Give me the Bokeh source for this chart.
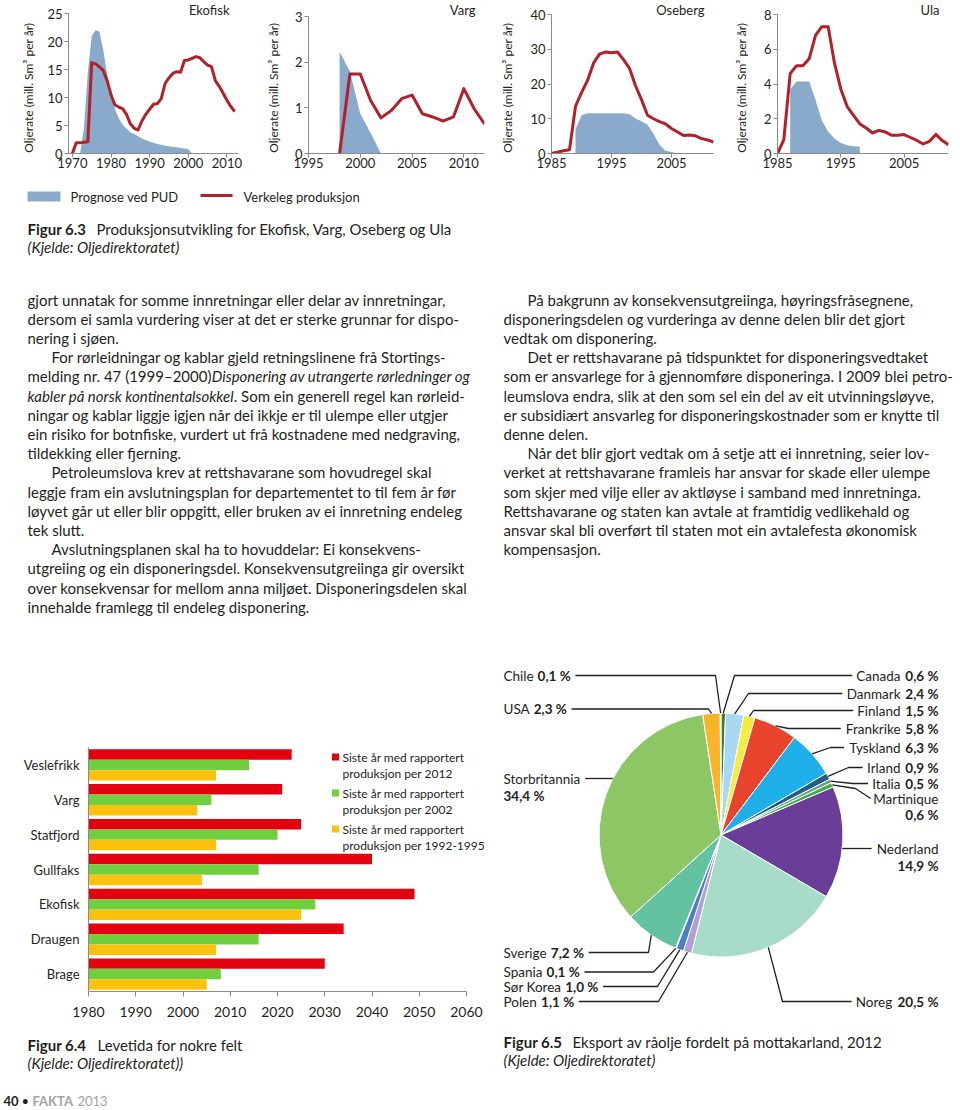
import math
from bokeh.plotting import figure
from bokeh.models import Range1d, FixedTicker, ColumnDataSource, Label, LabelSet
from bokeh.layouts import column, row
from bokeh.embed import file_html
from bokeh.resources import INLINE
from bokeh.core.properties import value
from bokeh.transform import dodge

FONT = "Lato"
INK = "#231f20"
AX = "#8a8a8a"
BLUE = "#8aaacb"
RED = "#b3202a"

# ---------------- Figure 6.3 data (mill. Sm3 per year) ----------------
eko_years = list(range(1970, 2013))
eko_actual = [0, 1.9, 1.9, 2.0, 2.1, 16.2, 16.0, 15.5, 14.8, 13.0, 10.5, 8.7, 8.3, 8.0, 7.0,
              5.3, 4.5, 4.2, 5.8, 7.0, 7.9, 8.8, 8.9, 9.8, 12.5, 13.5, 14.3, 14.6, 14.5, 16.6,
              16.7, 17.0, 17.3, 17.1, 16.4, 15.8, 15.5, 13.0, 12.0, 10.8, 9.5, 8.4, 7.5]
eko_pud_years = list(range(1972, 2002))
eko_pud = [0, 4.5, 14.5, 21.0, 22.0, 21.8, 18.5, 14.2, 10.8, 8.0, 6.3, 5.2, 4.4, 3.8, 3.5,
           3.1, 2.7, 2.4, 2.1, 1.9, 1.7, 1.55, 1.4, 1.3, 1.2, 1.1, 1.0, 0.9, 0.8, 0]

varg_years = list(range(1998, 2013))
varg_actual = [0, 1.74, 1.74, 1.16, 0.78, 0.94, 1.2, 1.28, 0.87, 0.8, 0.71, 0.8, 1.42, 0.98, 0.65]
varg_pud_years = [1998, 1998, 1999, 2000, 2001, 2002]
varg_pud = [0, 2.23, 1.8, 0.87, 0.45, 0]

ose_years = list(range(1985, 2013))
ose_actual = [0, 0.4, 0.8, 1.1, 13.6, 17.5, 21.0, 26.0, 28.6, 29.2, 29.0, 29.2, 27.0, 24.5,
              19.5, 15.5, 11.0, 10.0, 9.2, 8.5, 7.2, 6.2, 5.2, 5.3, 5.1, 4.3, 3.9, 3.3]
ose_pud_years = [1989, 1989, 1990, 1991, 1992, 1993, 1994, 1995, 1996, 1997, 1998, 1999,
                 2000, 2001, 2002, 2003, 2004, 2005, 2006]
ose_pud = [0, 7.0, 11.0, 11.6, 11.6, 11.6, 11.6, 11.6, 11.6, 11.6, 11.3, 10.1, 9.3, 8.3,
           5.7, 2.5, 0.8, 0.4, 0]

ula_years = list(range(1985, 2013))
ula_actual = [0, 0.8, 4.6, 5.05, 5.05, 5.45, 6.8, 7.3, 7.3, 5.2, 3.7, 2.7, 2.2, 1.7, 1.47,
              1.18, 1.33, 1.24, 1.05, 1.05, 1.09, 0.92, 0.75, 0.55, 0.7, 1.1, 0.75, 0.5]
ula_pud_years = [1987, 1987, 1988, 1989, 1990, 1991, 1992, 1993, 1994, 1995, 1996, 1997, 1998, 1998]
ula_pud = [0, 3.7, 4.15, 4.15, 4.15, 3.1, 1.9, 1.25, 0.85, 0.6, 0.48, 0.42, 0.4, 0]

# ---------------- Figure 6.4 data (year) ----------------
fields = ["Veslefrikk", "Varg", "Statfjord", "Gullfaks", "Ekofisk", "Draugen", "Brage"]
last_2012 = [2023, 2021, 2025, 2040, 2049, 2034, 2030]
last_2002 = [2014, 2006, 2020, 2016, 2028, 2016, 2008]
last_1992_95 = [2007, 2003, 2007, 2004, 2025, 2007, 2005]
bar_series_labels = [("Siste år med rapportert", "produksjon per  2012"),
                     ("Siste år med rapportert", "produksjon per  2002"),
                     ("Siste år med rapportert", "produksjon per 1992-1995")]
bar_colors = ["#e3000f", "#6fcf3f", "#fcc10c"]
bar_xticks = [1980, 1990, 2000, 2010, 2020, 2030, 2040, 2050, 2060]

# ---------------- Figure 6.5 data (%) ----------------
countries = ["Canada", "Danmark", "Finland", "Frankrike", "Tyskland", "Irland", "Italia",
             "Martinique", "Nederland", "Noreg", "Polen", "Sør Korea", "Spania", "Sverige",
             "Storbritannia", "USA", "Chile"]
shares = [0.6, 2.4, 1.5, 5.8, 6.3, 0.9, 0.5, 0.6, 14.9, 20.5, 1.1, 1.0, 0.1, 7.2, 34.4, 2.3, 0.1]
pie_colors = ["#3b7d3b", "#a9d8f2", "#f7ec3d", "#e8432d", "#1eaee8", "#1d5f8a", "#7a9a80",
              "#3fae49", "#6a3e98", "#a8dcc9", "#b49fd4", "#4a7fc1", "#c8c8c8", "#63c29f",
              "#8dc765", "#f9b52a", "#2a7a3a"]

# ---------------- text width estimate (Lato) ----------------
W = {' ': .193, 'a': .5, 'b': .56, 'c': .47, 'd': .56, 'e': .52, 'f': .33, 'g': .51, 'h': .56,
     'i': .24, 'j': .24, 'k': .51, 'l': .24, 'm': .84, 'n': .56, 'o': .56, 'p': .56, 'q': .56,
     'r': .37, 's': .42, 't': .35, 'u': .56, 'v': .51, 'w': .78, 'x': .5, 'y': .51, 'z': .45,
     'å': .5, 'ø': .56, 'æ': .81, 'A': .68, 'C': .66, 'D': .74, 'E': .57, 'F': .55, 'I': .28,
     'K': .66, 'M': .9, 'N': .75, 'P': .6, 'S': .53, 'U': .72, 'V': .68, 'T': .58, 'R': .62,
     'L': .5, 'G': .71, ',': .21, '.': .21, '%': .78, '(': .3, ')': .3, '–': .5, '-': .33, ':': .23}
for d in "0123456789":
    W[d] = .58


def tw(s, size, style="normal"):
    w = sum(W.get(c, .6) for c in s) * size
    return w * {"normal": 1.0, "bold": 1.07, "italic": 0.95}[style]


def style_text(p, xs, ys, texts, size, style="normal", color=INK, align="left"):
    src = ColumnDataSource(dict(x=xs, y=ys, text=texts))
    p.text(x="x", y="y", text="text", source=src, text_font=value(FONT),
           text_font_size=value(f"{size}px"), text_font_style=style, text_color=color,
           text_align=align, text_baseline="middle")


def base_fig(**kw):
    p = figure(output_backend="svg", toolbar_location=None, frame_align=False, **kw)
    p.grid.visible = False
    p.outline_line_color = None
    return p


def text_fig(w, h):
    return base_fig(width=w, height=h, x_range=Range1d(0, w), y_range=Range1d(h, 0),
                    x_axis_location=None, y_axis_location=None, min_border_left=0,
                    min_border_right=0, min_border_top=0, min_border_bottom=0)


# ---------------- top charts (page y 0..180) ----------------
top_cfg = [
    dict(title="Ekofisk", w=248, bl=68, br=10, top=13, xr=(1969, 2013), yr=(0, 25),
         xt=[1970, 1980, 1990, 2000, 2010], yt=[0, 5, 10, 15, 20, 25], als=8),
    dict(title="Varg", w=242, bl=60, br=6, top=16, xr=(1995, 2012), yr=(0, 3),
         xt=[1995, 2000, 2005, 2010], yt=[0, 1, 2, 3], als=11),
    dict(title="Oseberg", w=234, bl=61, br=11, top=14, xr=(1985, 2012), yr=(0, 40),
         xt=[1985, 1995, 2005], yt=[0, 10, 20, 30, 40], als=12),
    dict(title="Ula", w=236, bl=53, br=12, top=14, xr=(1985, 2012), yr=(0, 8),
         xt=[1985, 1995, 2005], yt=[0, 2, 4, 6, 8], als=12),
]
top_data = [(eko_years, eko_actual, eko_pud_years, eko_pud),
            (varg_years, varg_actual, varg_pud_years, varg_pud),
            (ose_years, ose_actual, ose_pud_years, ose_pud),
            (ula_years, ula_actual, ula_pud_years, ula_pud)]
TOP_H, TOP_BOTTOM = 180, 153
NB = "\u00a0"


def top_chart(cfg, years, actual, pud_x, pud_y):
    xr, yr = cfg["xr"], cfg["yr"]
    ppu = (TOP_BOTTOM - cfg["top"]) / yr[1]
    y_end = yr[1] + cfg["top"] / ppu          # frame reaches the canvas top
    p = base_fig(width=cfg["w"], height=TOP_H, x_range=Range1d(*xr), y_range=Range1d(0, y_end),
                 min_border_left=cfg["bl"], min_border_right=cfg["br"],
                 min_border_top=0, min_border_bottom=TOP_H - TOP_BOTTOM)
    p.varea(x=pud_x, y1=[0] * len(pud_x), y2=pud_y, fill_color=BLUE)
    p.line(x=years, y=actual, line_color=RED, line_width=3, line_join="round")
    p.xaxis.ticker = FixedTicker(ticks=cfg["xt"])
    p.yaxis.ticker = FixedTicker(ticks=cfg["yt"])
    p.yaxis.bounds = (0, yr[1])
    for ax in (p.xaxis[0], p.yaxis[0]):
        ax.axis_line_color = AX
        ax.major_tick_line_color = AX
        ax.major_tick_out = 4
        ax.major_tick_in = 0
        ax.minor_tick_line_color = None
        ax.major_label_text_font = FONT
        ax.major_label_text_font_size = "13px"
        ax.major_label_text_color = INK
    p.xaxis.major_label_standoff = 0
    p.yaxis.major_label_standoff = 2
    p.yaxis.axis_label = "Oljerate (mill. Sm³ per år)" + NB * 7
    p.yaxis.axis_label_text_font = FONT
    p.yaxis.axis_label_text_font_size = "12px"
    p.yaxis.axis_label_text_font_style = "normal"
    p.yaxis.axis_label_text_color = INK
    p.yaxis.axis_label_standoff = cfg["als"]
    frame_w = cfg["w"] - cfg["bl"] - cfg["br"]
    pxy = frame_w / (xr[1] - xr[0])
    p.add_layout(Label(x=xr[1] - 9 / pxy, y=yr[1] + (cfg["top"] - 9) / ppu, text=cfg["title"],
                       text_align="right", text_baseline="middle", text_font=FONT,
                       text_font_size="13px", text_color=INK))
    return p


tops = [top_chart(c, *d) for c, d in zip(top_cfg, top_data)]

# ---------------- middle text block (page y 180..640) ----------------
MID_Y0 = 180
mid = text_fig(960, 460)
mid.quad(left=[27], right=[60], top=[191 - MID_Y0], bottom=[201 - MID_Y0],
         fill_color=BLUE, line_color=None)
mid.line(x=[200, 232], y=[195 - MID_Y0, 195 - MID_Y0], line_color=RED, line_width=3)
style_text(mid, [70, 243], [196 - MID_Y0] * 2, ["Prognose ved PUD", "Verkeleg produksjon"], 13)
style_text(mid, [27], [228 - MID_Y0], ["Figur 6.3"], 15, "bold")
style_text(mid, [96], [228 - MID_Y0], ["Produksjonsutvikling for Ekofisk, Varg, Oseberg og Ula"], 15)
style_text(mid, [27], [246 - MID_Y0], ["(Kjelde: Oljedirektoratet)"], 15, "italic")

left_col = [
    (False, [("gjort unnatak for somme innretningar eller delar av innretningar,", "normal")]),
    (False, [("dersom ei samla vurdering viser at det er sterke grunnar for dispo-", "normal")]),
    (False, [("nering i sjøen.", "normal")]),
    (True, [("For rørleidningar og kablar gjeld retningslinene frå Stortings-", "normal")]),
    (False, [("melding nr. 47 (1999–2000)", "normal"), ("Disponering av utrangerte rørledninger og", "italic")]),
    (False, [("kabler på norsk kontinentalsokkel", "italic"), (". Som ein generell regel kan rørleid-", "normal")]),
    (False, [("ningar og kablar liggje igjen når dei ikkje er til ulempe eller utgjer", "normal")]),
    (False, [("ein risiko for botnfiske, vurdert ut frå kostnadene med nedgraving,", "normal")]),
    (False, [("tildekking eller fjerning.", "normal")]),
    (True, [("Petroleumslova krev at rettshavarane som hovudregel skal", "normal")]),
    (False, [("leggje fram ein avslutningsplan for departementet to til fem år før", "normal")]),
    (False, [("løyvet går ut eller blir oppgitt, eller bruken av ei innretning endeleg", "normal")]),
    (False, [("tek slutt.", "normal")]),
    (True, [("Avslutningsplanen skal ha to hovuddelar: Ei konsekvens-", "normal")]),
    (False, [("utgreiing og ein disponeringsdel. Konsekvensutgreiinga gir oversikt", "normal")]),
    (False, [("over konsekvensar for mellom anna miljøet. Disponeringsdelen skal", "normal")]),
    (False, [("innehalde framlegg til endeleg disponering.", "normal")]),
]
right_col = [
    (True, [("På bakgrunn av konsekvensutgreiinga, høyringsfråsegnene,", "normal")]),
    (False, [("disponeringsdelen og vurderinga av denne delen blir det gjort", "normal")]),
    (False, [("vedtak om disponering.", "normal")]),
    (True, [("Det er rettshavarane på tidspunktet for disponeringsvedtaket", "normal")]),
    (False, [("som er ansvarlege for å gjennomføre disponeringa. I 2009 blei petro-", "normal")]),
    (False, [("leumslova endra, slik at den som sel ein del av eit utvinningsløyve,", "normal")]),
    (False, [("er subsidiært ansvarleg for disponeringskostnader som er knytte til", "normal")]),
    (False, [("denne delen.", "normal")]),
    (True, [("Når det blir gjort vedtak om å setje att ei innretning, seier lov-", "normal")]),
    (False, [("verket at rettshavarane framleis har ansvar for skade eller ulempe", "normal")]),
    (False, [("som skjer med vilje eller av aktløyse i samband med innretninga.", "normal")]),
    (False, [("Rettshavarane og staten kan avtale at framtidig vedlikehald og", "normal")]),
    (False, [("ansvar skal bli overført til staten mot ein avtalefesta økonomisk", "normal")]),
    (False, [("kompensasjon.", "normal")]),
]
BODY = 15
groups = {"normal": ([], [], []), "italic": ([], [], [])}
for x0, lines in ((27, left_col), (503, right_col)):
    for i, (indent, segs) in enumerate(lines):
        x = x0 + (24 if indent else 0)
        y = 299 + i * 19.2
        for k, (txt, st) in enumerate(segs):
            g = groups[st]
            g[0].append(x)
            g[1].append(y - MID_Y0)
            g[2].append(txt)
            x += tw(txt, BODY, st)
            if k == 0 and st == "normal" and len(segs) > 1 and not segs[1][0].startswith("."):
                x += tw(" ", BODY)
for st, (xs, ys, ts) in groups.items():
    style_text(mid, xs, ys, ts, BODY, st)

# ---------------- Figure 6.4: bar chart (page x 0..495, y 640..1030) ----------------
BAR_TOP, BAR_BOT, BAR_L, BAR_R = 747, 991, 88, 466
BAR_FRAME_R = 495


def bx(xp):
    return 1980 + (xp - BAR_L) * 80 / (BAR_R - BAR_L)


def by(yp):
    return -0.5 + (BAR_BOT - yp) * 7 / (BAR_BOT - BAR_TOP)


bar = base_fig(width=495, height=390, x_range=Range1d(1980, bx(BAR_FRAME_R)),
               y_range=Range1d(-0.5, 6.5),
               min_border_left=BAR_L, min_border_right=495 - BAR_FRAME_R,
               min_border_top=BAR_TOP - 640, min_border_bottom=1030 - BAR_BOT)
pos = [len(fields) - 1 - i for i in range(len(fields))]
bsrc = ColumnDataSource(dict(pos=pos, s2012=last_2012, s2002=last_2002, s9295=last_1992_95))
for col, off, colr in (("s2012", 0.3, bar_colors[0]), ("s2002", 0.0, bar_colors[1]),
                       ("s9295", -0.3, bar_colors[2])):
    bar.hbar(y=dodge("pos", off), left=1980, right=col, height=0.3, fill_color=colr,
             line_color=None, source=bsrc)
bar.xaxis.ticker = FixedTicker(ticks=bar_xticks)
bar.xaxis.bounds = (1980, 2060)
bar.yaxis.ticker = FixedTicker(ticks=pos)
bar.yaxis.major_label_overrides = {p_: f for p_, f in zip(pos, fields)}
for ax in (bar.xaxis[0], bar.yaxis[0]):
    ax.axis_line_color = AX
    ax.major_tick_line_color = AX
    ax.minor_tick_line_color = None
    ax.major_label_text_font = FONT
    ax.major_label_text_color = INK
bar.xaxis.major_tick_out = 5
bar.xaxis.major_tick_in = 0
bar.xaxis.major_label_standoff = 10
bar.xaxis.major_label_text_font_size = "14px"
bar.yaxis.major_tick_out = 0
bar.yaxis.major_tick_in = 0
bar.yaxis.major_label_standoff = 9
bar.yaxis.major_label_text_font_size = "13px"

leg_rows = [756.5, 792.5, 828.5]
bar.scatter(x=[bx(335)] * 3, y=[by(v) for v in leg_rows], marker="square", size=7,
            fill_color=bar_colors, line_color=None)
leg_src = ColumnDataSource(dict(x=[bx(342)] * 6,
                                y=[by(v + d) for v in leg_rows for d in (0.5, 16.5)],
                                text=[t for pair in bar_series_labels for t in pair]))
bar.add_layout(LabelSet(x="x", y="y", text="text", source=leg_src, text_font=value(FONT),
                        text_font_size=value("12px"), text_color=INK, text_baseline="middle",
                        text_align="left"))

# ---------------- Figure 6.5: pie chart (page x 495..960, y 640..1030) ----------------
PIE_X0, PIE_W = 495, 465
pie = base_fig(width=PIE_W, height=390, x_range=Range1d(0, PIE_W), y_range=Range1d(0, 390),
               x_axis_location=None, y_axis_location=None, min_border_left=0,
               min_border_right=0, min_border_top=0, min_border_bottom=0)


def PX(xp):
    return xp - PIE_X0


def PY(yp):
    return 1030 - yp


CX, CY, R = PX(720.5), PY(834.5), 122
total = sum(shares)
cum = [0]
for s in shares:
    cum.append(cum[-1] + s)
starts = [math.pi / 2 - 2 * math.pi * c / total for c in cum[:-1]]
ends = [math.pi / 2 - 2 * math.pi * c / total for c in cum[1:]]
pie.wedge(x=CX, y=CY, radius=R, start_angle=starts, end_angle=ends, direction="clock",
          fill_color=pie_colors, line_color="white", line_width=1)

share_text = {c: f"{s:.1f} %".replace(".", ",") for c, s in zip(countries, shares)}


def anchor(c):
    i = countries.index(c)
    th = 2 * math.pi * (cum[i] + shares[i] / 2) / total
    return CX + R * math.sin(th), CY + R * math.cos(th)


def edge_at(yp, side):
    dy = PY(yp) - CY
    return CX + side * math.sqrt(R * R - dy * dy), PY(yp)


FS = 13.5
SP = tw(" ", FS) + 1.5
RX = 938
LX = 503
names = ([], [], [], [])
vals = ([], [], [], [])
lxs, lys = [], []


def put(grp, x, y, t, al):
    grp[0].append(x); grp[1].append(y); grp[2].append(t); grp[3].append(al)


right_single = {"Canada": (675, 734), "Danmark": (693, 748), "Finland": (710, 753),
                "Frankrike": (728, 788), "Tyskland": (747, 830), "Irland": (767, 848),
                "Italia": (783, 852), "Noreg": (1001, 782)}
for c, (yp, ex) in right_single.items():
    v = share_text[c]
    wv = tw(v, FS, "bold")
    put(names, PX(RX - wv - SP), PY(yp), c, "right")
    put(vals, PX(RX), PY(yp), v, "right")
    ax_, ay_ = anchor(c)
    tl = RX - wv - SP - tw(c, FS) - 4
    lxs.append([ax_, PX(ex), PX(tl)]); lys.append([ay_, PY(yp), PY(yp)])

for c, y1, y2 in (("Martinique", 798, 814), ("Nederland", 848, 865)):
    put(names, PX(RX), PY(y1), c, "right")
    put(vals, PX(RX), PY(y2), share_text[c], "right")
tlm = RX - tw("Martinique", FS) - 3
ax_, ay_ = anchor("Martinique")
lxs.append([ax_, PX(855), PX(tlm)]); lys.append([ay_, PY(788), PY(798)])
ex_, ey_ = edge_at(848, 1)
lxs.append([ex_, PX(RX - tw("Nederland", FS) - 5)]); lys.append([ey_, PY(848)])

left_single = {"Chile": (675, 715), "USA": (708.5, 708), "Sverige": (952, 648),
               "Spania": (971.5, 653), "Sør Korea": (986, 657), "Polen": (1001, 658)}
for c, (yp, ex) in left_single.items():
    v = share_text[c]
    put(names, PX(LX), PY(yp), c, "left")
    xv = LX + tw(c, FS) + SP
    put(vals, PX(xv), PY(yp), v, "left")
    end = xv + tw(v, FS, "bold") + 4
    ax_, ay_ = anchor(c)
    lxs.append([PX(end), PX(ex), ax_]); lys.append([PY(yp), PY(yp), ay_])

put(names, PX(LX), PY(778), "Storbritannia", "left")
put(vals, PX(LX), PY(795), share_text["Storbritannia"], "left")
ex_, ey_ = edge_at(778, -1)
lxs.append([PX(LX + tw("Storbritannia", FS) + 5), ex_]); lys.append([PY(778), ey_])

pie.multi_line(xs=lxs, ys=lys, line_color=INK, line_width=1.3)
for grp, st in ((names, "normal"), (vals, "bold")):
    for al in ("left", "right"):
        idx = [k for k, a in enumerate(grp[3]) if a == al]
        style_text(pie, [grp[0][k] for k in idx], [grp[1][k] for k in idx],
                   [grp[2][k] for k in idx], FS, st, INK, al)

# ---------------- bottom captions (page y 1030..1108) ----------------
BOT_Y0 = 1030
bot = text_fig(960, 78)
style_text(bot, [27, 503], [1044 - BOT_Y0, 1041 - BOT_Y0], ["Figur 6.4", "Figur 6.5"], 15, "bold")
style_text(bot, [97, 572], [1044 - BOT_Y0, 1041 - BOT_Y0],
           ["Levetida for nokre felt", "Eksport av råolje fordelt på mottakarland, 2012"], 15)
style_text(bot, [27, 503], [1062 - BOT_Y0, 1059 - BOT_Y0],
           ["(Kjelde: Oljedirektoratet))", "(Kjelde: Oljedirektoratet)"], 15, "italic")
style_text(bot, [3], [1100 - BOT_Y0], ["40"], 13, "bold")
style_text(bot, [21], [1100 - BOT_Y0], ["•"], 13)
style_text(bot, [32], [1100 - BOT_Y0], ["FAKTA"], 13, "bold", "#a3a3a3")
style_text(bot, [77], [1100 - BOT_Y0], ["2013"], 13, "normal", "#a3a3a3")

layout = column(row(*tops), mid, row(bar, pie), bot)
open("out.html", "w").write(file_html(layout, INLINE))
